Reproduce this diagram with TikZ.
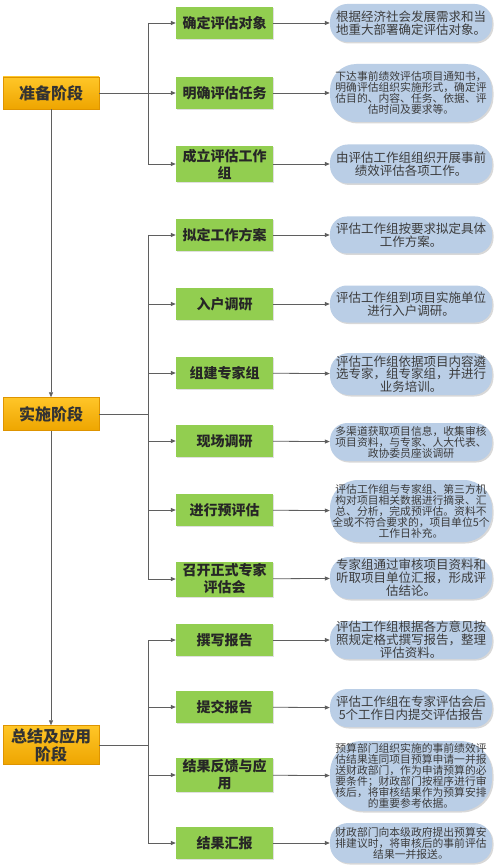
\documentclass[tikz,border=0pt]{standalone}
\usepackage{fontspec}
\setmainfont{Noto Sans CJK SC}
\usetikzlibrary{arrows.meta,shadows,calc}
\definecolor{stagetop}{RGB}{255,198,40}
\definecolor{stagebot}{RGB}{238,165,0}
\definecolor{stagedark}{RGB}{222,148,0}
\definecolor{taskgreen}{RGB}{146,206,80}
\definecolor{descblue}{RGB}{186,206,230}
\definecolor{linegray}{RGB}{95,95,95}
\definecolor{textgray}{RGB}{60,60,60}

\begin{document}
\begin{tikzpicture}[x=1pt,y=-1pt]
			\def\trunk{148}

			\tikzset{line/.style={draw=linegray,line width=0.8pt}}
			\tikzset{arrow/.style={line,-{Triangle[length=5pt,width=4pt]}}}
			\tikzset{stage/.style={draw=stagedark,line width=0.5pt,top color=stagetop,bottom color=stagebot,minimum width=96pt,inner sep=1pt,align=center,text=black!80,font=\bfseries\fontsize{16}{18}\selectfont}}
			\tikzset{task/.style={fill=taskgreen,minimum width=97pt,minimum height=32pt,inner sep=1pt,align=center,text=black!85,font=\bfseries\fontsize{14}{17}\selectfont,drop shadow={shadow xshift=1pt,shadow yshift=-1pt,opacity=0.25}}}
			\tikzset{desc/.style={fill=descblue,minimum width=162pt,minimum height=#1,rounded corners=#1/2.2,inner sep=0pt,align=center,text=textgray,font=\fontsize{12.5}{13.3}\selectfont,drop shadow={shadow xshift=1.5pt,shadow yshift=-1.5pt,opacity=0.3}}}
			\tikzset{small/.style={font=\fontsize{10.8}{11}\selectfont}}

			\fill[white] (0,0) rectangle (500,866);
			\useasboundingbox (0,0) rectangle (500,866);

			% stages
			\node[stage,minimum height=32pt] (s1) at (51,93) {准备阶段};
			\node[stage,minimum height=33pt] (s2) at (51,414) {实施阶段};
			\node[stage,minimum height=39pt] (s3) at (51,745) {总结及应用\\阶段};

			% tasks
			\node[task] (t1) at (224.5,23) {确定评估对象};
			\node[task] (t2) at (224.5,93) {明确评估任务};
			\node[task,minimum height=36pt] (t3) at (224.5,164) {成立评估工作\\组};
			\node[task] (t4) at (224.5,235) {拟定工作方案};
			\node[task] (t5) at (224.5,304) {入户调研};
			\node[task] (t6) at (224.5,373) {组建专家组};
			\node[task] (t7) at (224.5,441) {现场调研};
			\node[task] (t8) at (224.5,510) {进行预评估};
			\node[task,minimum height=35pt] (t9) at (224.5,579) {召开正式专家\\评估会};
			\node[task] (t10) at (224.5,640) {撰写报告};
			\node[task] (t11) at (224.5,707) {提交报告};
			\node[task,minimum height=34pt] (t12) at (224.5,775) {结果反馈与应\\用};
			\node[task] (t13) at (224.5,843) {结果汇报};

			% descriptions
			\node[desc=38pt] (d1) at (411,23) {根据经济社会发展需求和当\\地重大部署确定评估对象。};
			\node[desc=58pt,small] (d2) at (411,93) {下达事前绩效评估项目通知书，\\明确评估组织实施形式，确定评\\估目的、内容、任务、依据、评\\估时间及要求等。};
			\node[desc=39pt] (d3) at (411,164) {由评估工作组组织开展事前\\绩效评估各项工作。};
			\node[desc=37pt] (d4) at (411,235) {评估工作组按要求拟定具体\\工作方案。};
			\node[desc=37pt] (d5) at (411,304) {评估工作组到项目实施单位\\进行入户调研。};
			\node[desc=42pt,font=\fontsize{12.5}{12.5}\selectfont] (d6) at (411,374) {评估工作组依据项目内容遴\\选专家，组专家组，并进行\\业务培训。};
			\node[desc=38pt,small] (d7) at (411,442) {多渠道获取项目信息，收集审核\\项目资料，与专家、人大代表、\\政协委员座谈调研};
			\node[desc=62pt,small] (d8) at (411,511) {评估工作组与专家组、第三方机\\构对项目相关数据进行摘录、汇\\总、分析，完成预评估。资料不\\全或不符合要求的，项目单位5个\\工作日补充。};
			\node[desc=42pt,font=\fontsize{12.5}{13}\selectfont] (d9) at (411,578) {专家组通过审核项目资料和\\听取项目单位汇报，形成评\\估结论。};
			\node[desc=38pt,font=\fontsize{12.5}{13}\selectfont] (d10) at (411,640) {评估工作组根据各方意见按\\照规定格式撰写报告，整理\\评估资料。};
			\node[desc=38pt] (d11) at (411,708) {评估工作组在专家评估会后\\5个工作日内提交评估报告};
			\node[desc=70pt,small] (d12) at (411,776) {预算部门组织实施的事前绩效评\\估结果连同项目预算申请一并报\\送财政部门，作为申请预算的必\\要条件；财政部门按程序进行审\\核后，将审核结果作为预算安排\\的重要参考依据。};
			\node[desc=40pt,small] (d13) at (411,843) {财政部门向本级政府提出预算安\\排建议时，将审核后的事前评估\\结果一并报送。};

			% junctions on the trunks
			\coordinate (b1) at (\trunk,93);
			\coordinate (b2) at (\trunk,414);
			\coordinate (b3) at (\trunk,745);

			\draw[arrow] (s1) -- (s2);
			\draw[arrow] (s2) -- (s3);

			\draw[line] (s1) -- (b1);
			\draw[line] (s2) -- (b2);
			\draw[line] (s3) -- (b3);

			\draw[line] (t1 -| b1) -- (t3 -| b1);
			\draw[line] (t4 -| b2) -- (t9 -| b2);
			\draw[line] (t10 -| b3) -- (t13 -| b3);

			\foreach \i in {1,2,3}
				\draw[arrow] (t\i -| b1) -- (t\i);
			\foreach \i in {4,...,9}
				\draw[arrow] (t\i -| b2) -- (t\i);
			\foreach \i in {10,...,13}
				\draw[arrow] (t\i -| b3) -- (t\i);

			\foreach \i in {1,...,13}
				\draw[arrow] (t\i) -- (d\i);
\end{tikzpicture}
\end{document}
